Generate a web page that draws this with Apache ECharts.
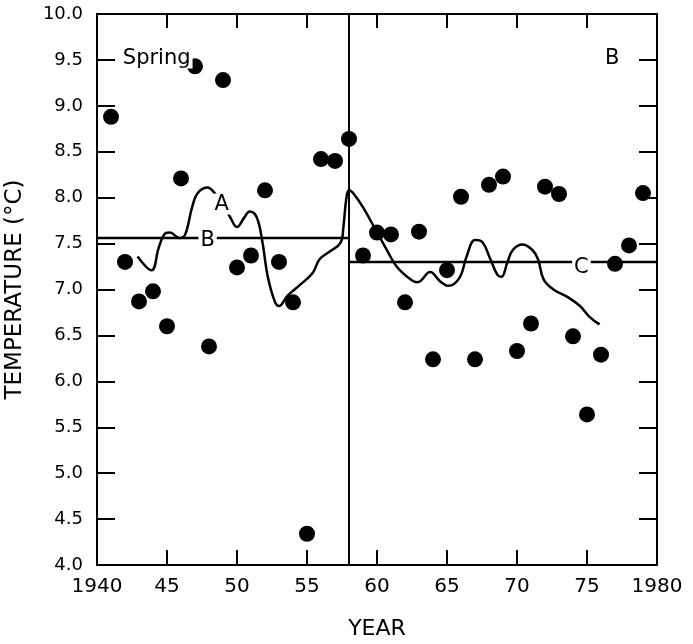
<!DOCTYPE html>
<html>
<head>
<meta charset="utf-8">
<script src="https://cdn.jsdelivr.net/npm/echarts@6/dist/echarts.min.js"></script>
<style>
html,body{margin:0;padding:0;background:#fff;}
#chart{width:693px;height:644px;}
</style>
</head>
<body>
<div id="chart"></div>
<script>
// ---- data ----
const years = [1941,1942,1943,1944,1945,1946,1947,1948,1949,1950,1951,1952,1953,1954,1955,1956,1957,1958,1959,1960,1961,1962,1963,1964,1965,1966,1967,1968,1969,1970,1971,1972,1973,1974,1975,1976,1977,1978,1979];
const springTemps = [8.88,7.30,6.87,6.98,6.60,8.21,9.43,6.38,9.28,7.24,7.37,8.08,7.30,6.86,4.34,8.42,8.40,8.64,7.37,7.62,7.60,6.86,7.63,6.24,7.21,8.01,6.24,8.14,8.23,6.33,6.63,8.12,8.04,6.49,5.64,6.29,7.28,7.48,8.05];

// smoothed curve A (year, value)
const curveYears = [1942.9,1943.9,1944.4,1944.8,1945.2,1945.9,1946.3,1946.8,1947.2,1947.9,1948.4,1949.0,1949.5,1950.0,1950.5,1950.9,1951.4,1951.8,1952.2,1952.7,1953.0,1953.6,1954.5,1955.4,1955.9,1956.6,1957.4,1957.6,1957.8,1958.0,1958.4,1959.1,1959.9,1960.6,1961.4,1962.4,1962.9,1963.8,1964.5,1965.1,1965.9,1966.4,1967.0,1967.5,1968.1,1968.6,1968.9,1969.3,1969.7,1970.4,1971.1,1971.5,1971.9,1972.6,1973.6,1974.5,1975.2,1975.9];
const curveVals  = [7.36,7.21,7.45,7.60,7.62,7.56,7.60,7.90,8.05,8.11,8.05,7.92,7.79,7.68,7.78,7.85,7.79,7.53,7.14,6.87,6.82,6.93,7.05,7.18,7.33,7.41,7.51,7.68,7.98,8.08,8.03,7.87,7.65,7.46,7.25,7.11,7.08,7.19,7.09,7.04,7.13,7.36,7.54,7.52,7.33,7.16,7.14,7.29,7.43,7.49,7.43,7.33,7.11,7.00,6.92,6.82,6.70,6.62];

// mean lines B (1940-1958) and C (1958-1980)
const meanB = {from:1940, to:1958, value:7.56};
const meanC = {from:1958, to:1980, value:7.30};
const breakYear = 1958;

const xTickLabels = {1940:'1940',1945:'45',1950:'50',1955:'55',1960:'60',1965:'65',1970:'70',1975:'75',1980:'1980'};

// annotation texts: [text, year, value, align]
const notes = [
  ['Spring', 1941.7, 9.52, 'left'],
  ['B', 1976.8, 9.52, 'center'],
  ['A', 1948.9, 7.93, 'center'],
  ['B', 1947.9, 7.53, 'center'],
  ['C', 1974.6, 7.24, 'center']
];

const FONT = 'DejaVu Sans';
const chart = echarts.init(document.getElementById('chart'), null, {renderer:'canvas'});

const axisLine = {show:true, lineStyle:{color:'#000', width:2}};
const option = {
  backgroundColor:'#fff',
  animation:false,
  grid:{left:97, right:36, top:14, bottom:79, containLabel:false, outerBoundsMode:'none'},
  xAxis:[
    {type:'value', min:1940, max:1980, interval:5, position:'bottom',
     axisLine:axisLine,
     axisTick:{show:true, inside:true, length:15, lineStyle:{color:'#000', width:2}},
     axisLabel:{color:'#000', fontFamily:FONT, fontSize:20, margin:12,
       formatter:v=>xTickLabels[v]||''},
     splitLine:{show:false},
     name:'YEAR', nameLocation:'middle', nameGap:53,
     nameTextStyle:{color:'#000', fontFamily:FONT, fontSize:22}},
    {type:'value', min:1940, max:1980, interval:5, position:'top',
     axisLine:axisLine,
     axisTick:{show:true, inside:true, length:14, lineStyle:{color:'#000', width:2}},
     axisLabel:{show:false}, splitLine:{show:false}}
  ],
  yAxis:[
    {type:'value', min:4, max:10, interval:0.5, position:'left',
     axisLine:axisLine,
     axisTick:{show:true, inside:true, length:18, lineStyle:{color:'#000', width:2}},
     axisLabel:{color:'#000', fontFamily:FONT, fontSize:18, margin:14,
       formatter:v=>v.toFixed(1)},
     splitLine:{show:false},
     name:'TEMPERATURE (°C)', nameLocation:'middle', nameGap:70,
     nameTextStyle:{color:'#000', fontFamily:FONT, fontSize:23}},
    {type:'value', min:4, max:10, interval:0.5, position:'right',
     axisLine:axisLine,
     axisTick:{show:true, inside:true, length:18, lineStyle:{color:'#000', width:2}},
     axisLabel:{show:false}, splitLine:{show:false}}
  ],
  series:[
    {type:'line', name:'B', data:[[meanB.from,meanB.value],[meanB.to,meanB.value]],
     symbol:'none', lineStyle:{color:'#000', width:2.5}, z:2,
     markLine:{silent:true, symbol:'none', label:{show:false},
       lineStyle:{color:'#000', width:2, type:'solid'},
       data:[{xAxis:breakYear}]}},
    {type:'line', name:'C', data:[[meanC.from,meanC.value],[meanC.to,meanC.value]],
     symbol:'none', lineStyle:{color:'#000', width:2.5}, z:2},
    {type:'line', name:'A', data:curveYears.map((y,i)=>[y,curveVals[i]]),
     symbol:'none', smooth:0.4, lineStyle:{color:'#000', width:2.5}, z:3},
    {type:'scatter', name:'Spring', data:years.map((y,i)=>[y,springTemps[i]]),
     symbol:'circle', symbolSize:16, itemStyle:{color:'#000', opacity:1}, z:5}
  ]
};
chart.setOption(option);

const graphics = notes.map(n=>{
  const p = chart.convertToPixel({xAxisIndex:0, yAxisIndex:0}, [n[1], n[2]]);
  return {type:'text', x:p[0], y:p[1], z:10,
    style:{text:n[0], fill:'#000', font:'21px "'+FONT+'"', align:n[3], verticalAlign:'middle',
      backgroundColor:'#fff', padding:[0,2]}};
});
chart.setOption({graphic:graphics});
</script>
</body>
</html>
